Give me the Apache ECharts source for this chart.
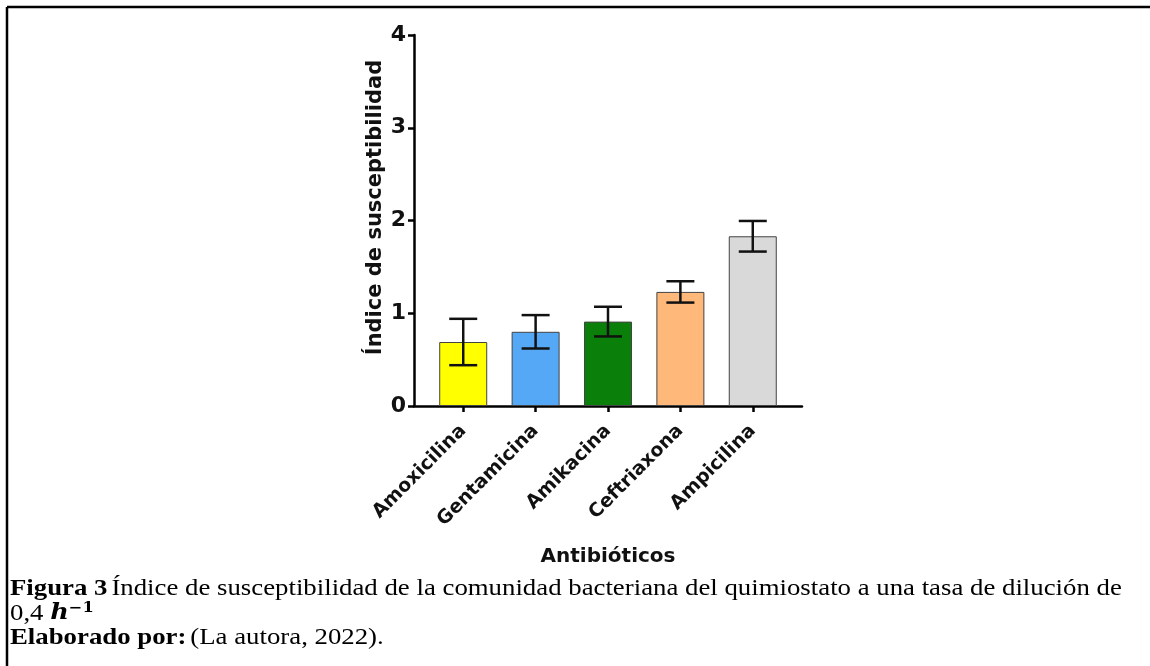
<!DOCTYPE html>
<html><head><meta charset="utf-8">
<script src="https://cdn.jsdelivr.net/npm/echarts@6/dist/echarts.min.js"></script>
<style>html,body{margin:0;padding:0;background:#fff}#c{width:1150px;height:666px}</style>
</head><body><div id="c"></div>
<script>
const categories = ['Amoxicilina','Gentamicina','Amikacina','Ceftriaxona','Ampicilina'];
const means = [0.69, 0.80, 0.91, 1.23, 1.83];
const errors = [0.25, 0.18, 0.16, 0.115, 0.165];
const colors = ['#FFFF00','#55A8F5','#0A7F0A','#FDB87A','#D9D9D9'];
const yTicks = [0,1,2,3,4];

const chart = echarts.init(document.getElementById('c'));
const idx = categories.map((_, i) => i);
const axisFont = 'DejaVu Sans';
chart.setOption({
  animation: false,
  grid: {left: 414, top: 35, right: 348, bottom: 260},
  xAxis: {
    type: 'value', min: -0.68, max: 4.68,
    splitLine: {show: false},
    axisLine: {show: true, onZero: false, lineStyle: {color: '#000', width: 2.5}},
    axisTick: {show: true, customValues: idx, length: 6, lineStyle: {color: '#000', width: 2.5}},
    axisLabel: {customValues: idx, rotate: 45, margin: 22, fontFamily: axisFont, fontWeight: 'bold', fontSize: 19, color: '#111',
      formatter: v => categories[Math.round(v)]},
    name: 'Antibióticos', nameLocation: 'middle', nameGap: 141,
    nameTextStyle: {fontFamily: axisFont, fontWeight: 'bold', fontSize: 20, color: '#111'}
  },
  yAxis: {
    type: 'value', min: 0, max: 4, interval: 1,
    splitLine: {show: false},
    axisLine: {show: true, onZero: false, lineStyle: {color: '#000', width: 2.5}},
    axisTick: {show: true, length: 6, lineStyle: {color: '#000', width: 2.5}},
    axisLabel: {fontFamily: axisFont, fontWeight: 'bold', fontSize: 22, color: '#111', margin: 8,
      formatter: v => yTicks.includes(v) ? String(v) : ''},
    name: 'Índice de susceptibilidad', nameLocation: 'middle', nameGap: 28,
    nameTextStyle: {fontFamily: axisFont, fontWeight: 'bold', fontSize: 21, color: '#111', padding: [0, 0, 0, 26]}
  },
  series: [
    {
      type: 'bar', barWidth: 48,
      data: means.map((m, i) => ({value: [i, m], itemStyle: {color: colors[i]}})),
      itemStyle: {borderColor: '#444', borderWidth: 1}
    },
    {
      type: 'custom', z: 5,
      data: means.map((m, i) => [i, m, errors[i]]),
      renderItem: function (params, api) {
        const x = api.value(0), m = api.value(1), e = api.value(2);
        const top = api.coord([x, m + e]);
        const bot = api.coord([x, m - e]);
        const hw = 14;
        const style = {stroke: '#111', lineWidth: 2.5};
        return {type: 'group', children: [
          {type: 'line', shape: {x1: top[0], y1: top[1], x2: bot[0], y2: bot[1]}, style},
          {type: 'line', shape: {x1: top[0]-hw, y1: top[1], x2: top[0]+hw, y2: top[1]}, style},
          {type: 'line', shape: {x1: bot[0]-hw, y1: bot[1], x2: bot[0]+hw, y2: bot[1]}, style}
        ]};
      }
    }
  ],
  graphic: [
    {type: 'line', shape: {x1: 7, y1: 7, x2: 1150, y2: 7}, style: {stroke: '#000', lineWidth: 2.5}},
    {type: 'line', shape: {x1: 7, y1: 7, x2: 7, y2: 666}, style: {stroke: '#000', lineWidth: 2.5}},
    {type: 'text', x: 10, y: 577, scaleX: 1.165, style: {
      text: '{b|Figura 3} {n|Índice de susceptibilidad de la comunidad bacteriana del quimiostato a una tasa de dilución de}\n{n|0,4 }{h|h}{s|−1}\n{b|Elaborado por:} {n|(La autora, 2022).}',
      fill: '#000', lineHeight: 24.5,
      rich: {
        b: {fontFamily: 'Liberation Serif', fontWeight: 'bold', fontSize: 23, lineHeight: 24.5, fill: '#000'},
        n: {fontFamily: 'Liberation Serif', fontSize: 23, lineHeight: 24.5, fill: '#000'},
        h: {fontFamily: 'DejaVu Serif', fontStyle: 'italic', fontWeight: 'bold', fontSize: 22, lineHeight: 24.5, fill: '#000'},
        s: {fontFamily: 'DejaVu Serif', fontWeight: 'bold', fontSize: 14, lineHeight: 24.5, verticalAlign: 'top', padding: [0,0,10,0], fill: '#000'}
      }
    }}
  ]
});
</script></body></html>
